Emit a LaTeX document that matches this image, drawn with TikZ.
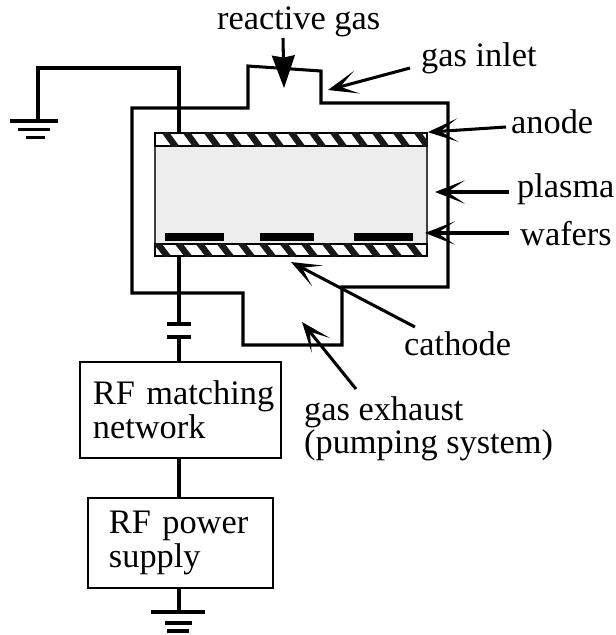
\documentclass[tikz,border=0pt]{standalone}
\usepackage{fontspec}
\setmainfont{Liberation Serif}
\usetikzlibrary{arrows.meta, calc}
\tikzset{
  wire/.style    = {line width=2.6pt, line cap=butt, line join=miter},
  plate/.style   = {rectangle, draw, line width=1.5pt, inner sep=0pt},
  wafer/.style   = {rectangle, fill=black, inner sep=0pt, minimum height=0.24cm},
  stripe/.style  = {line width=5.4pt, black!90},
  rfbox/.style   = {rectangle, draw, line width=2.2pt, align=left, inner ysep=0pt,
                    font=\fontsize{29.3}{28.8}\selectfont},
  label/.style   = {anchor=base west, inner sep=0pt, font=\fontsize{29.3}{28.8}\selectfont},
  arrow/.style   = {line width=2.6pt, -{Stealth[length=25.6pt, width=20pt, inset=15pt, line width=0pt]}},
  inflow/.style  = {line width=2.6pt, -{Stealth[length=28pt, width=20pt, inset=2pt, line width=0pt]}},
}
\begin{document}
\begin{tikzpicture}[x=0.03cm, y=-0.03cm]
    \useasboundingbox (0,0) rectangle (616,635);

    %% ===================== CHAMBER =====================
    \node[plate, draw=black!75, fill=black!7, minimum width=8.16cm, minimum height=3.3cm] (plasma) at (291,190) {};
    \node[plate, fill=white, minimum width=8.16cm, minimum height=0.39cm] (anode)   at (291,139.5) {};
    \node[plate, fill=white, minimum width=8.16cm, minimum height=0.36cm] (cathode) at (291,250) {};

    \begin{scope}
      \clip (anode.north west) rectangle (anode.south east);
      \foreach \x in {0,...,13} \draw[stripe] (165+\x*21,132) -- ++(11,15);
    \end{scope}
    \begin{scope}
      \clip (cathode.north west) rectangle (cathode.south east);
      \foreach \x in {0,...,13} \draw[stripe] (157+\x*21,243) -- ++(11,14);
    \end{scope}

    \foreach \n/\x/\w in {a/194.5/59, b/287/54, c/383.5/59}
      \node[wafer, minimum width=\w*0.03cm] (wafer\n) at (\x,237) {};

    %% gas envelope
    \draw[wire] (132,108) -- (248,108) -- (248,66) -- (321,71) -- (321,103) -- (448,103)
         -- (448,287) -- (342,287) -- (342,345) -- (243,345) -- (243,293) -- (132,293) -- cycle;

    %% ===================== RF CHAIN =====================
    \node[rfbox, inner xsep=0.39cm, text width=5.25cm, minimum height=2.88cm] (matching) at (180.5,410) {\mbox{RF matching}\\network};
    \node[rfbox, inner xsep=0.63cm, text width=4.29cm, minimum height=2.7cm]  (power)    at (180.5,543) {RF power\\supply};

    \coordinate (gndA) at (38,121);
    \coordinate (gndB) at (38,68);
    \coordinate (gndC) at (179,68);
    \coordinate (capA) at (179,324);
    \coordinate (capB) at (179,337);
    \coordinate (gndD) at (179,612);

    \draw[wire] (gndA) -- (gndB) -- (gndC) -- (gndC |- anode.north);
    \draw[wire] (capA |- cathode.south) -- (capA);
    \draw[wire] (capB) -- (capB |- matching.north);
    \draw[wire] (capB |- matching.south) -- (capB |- power.north);
    \draw[wire] (capB |- power.south) -- (gndD);

    %% capacitor plates
    \draw[wire] ($(capA)+(-12,0)$) -- ($(capA)+(12,0)$);
    \draw[wire] ($(capB)+(-12,0)$) -- ($(capB)+(12,0)$);

    %% grounds
    \draw[wire] (10,121) -- (58,121);
    \draw[wire] (18,129.5) -- (50,129.5);
    \draw[wire] (26,137.5) -- (45,137.5);
    \draw[wire] (151,612) -- (205,612);
    \draw[wire] (165,623) -- (192,623);
    \draw[wire] (167,631) -- (189,631);

    %% ===================== LABELS =====================
    \node[label] (lblreactive) at (217,29)  {reactive gas};
    \node[label] (lblinlet)    at (421,66)  {gas inlet};
    \node[label] (lblanode)    at (511,133) {anode};
    \node[label] (lblplasma)   at (517,197) {plasma};
    \node[label] (lblwafers)   at (520,245) {wafers};
    \node[label] (lblcathode)  at (404,355) {cathode};
    \node[label] (lblexhaust)  at (304,420) {gas exhaust};
    \node[label] (lblpumping)  at (304,453) {(pumping system)};

    \coordinate (reactiveT) at (283,38);
    \coordinate (reactiveH) at (284,88);
    \coordinate (inletT)    at (410,68);
    \coordinate (inletH)    at (328,90);
    \coordinate (anodeT)    at (506,127);
    \coordinate (plasmaT)   at (509,192);
    \coordinate (plasmaH)   at (435,192);
    \coordinate (wafersT)   at (509,233);
    \coordinate (wafersH)   at (425,233);
    \coordinate (cathodeT)  at (415,327);
    \coordinate (cathodeH)  at (291,262);
    \coordinate (exhaustT)  at (356,389);
    \coordinate (exhaustH)  at (302,322);

    \draw[inflow] (reactiveT) -- (reactiveH);
    \draw[arrow]  (inletT)    -- (inletH);
    \draw[arrow]  (anodeT)    -- (anode.north east);
    \draw[arrow]  (plasmaT)   -- (plasmaH);
    \draw[arrow]  (wafersT)   -- (wafersH);
    \draw[arrow]  (cathodeT)  -- (cathodeH);
    \draw[arrow]  (exhaustT)  -- (exhaustH);

\end{tikzpicture}
\end{document}
